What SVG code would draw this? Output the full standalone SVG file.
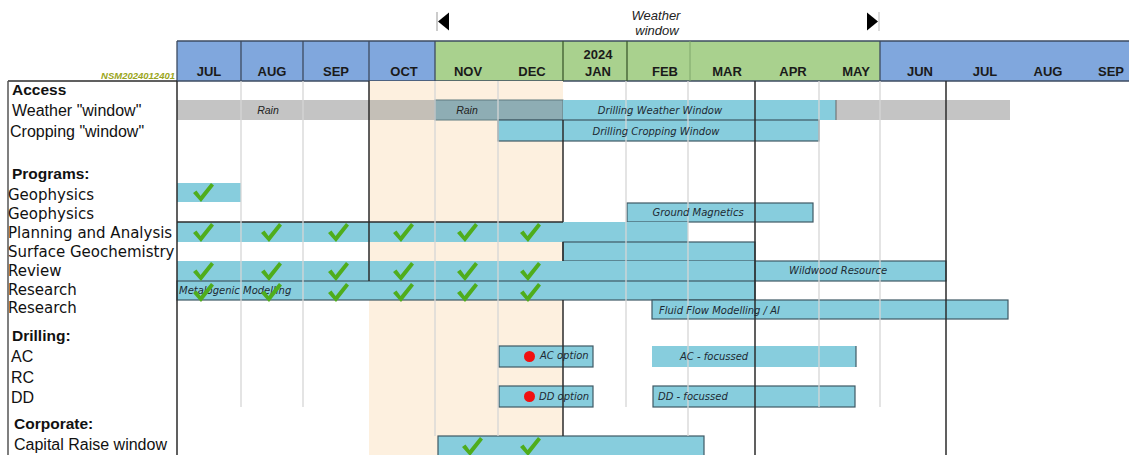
<svg xmlns="http://www.w3.org/2000/svg" width="1129" height="455" viewBox="0 0 1129 455">
<style>
.mo{font-family:"Liberation Sans",Arial,sans-serif;font-weight:bold;font-size:13px;fill:#1a1a1a;text-anchor:middle}
.lbA{font-family:"Liberation Sans",Arial,sans-serif;font-size:16px;fill:#111}
.lbH{font-family:"Liberation Sans",Arial,sans-serif;font-size:15.5px;font-weight:bold;fill:#111}
.lbP{font-family:"DejaVu Sans",Verdana,sans-serif;font-size:15px;fill:#111}
.bt{font-family:"DejaVu Sans",Verdana,sans-serif;font-style:italic;font-size:10px;fill:#1d2a33}
.rain{font-family:"Liberation Sans",Arial,sans-serif;font-style:italic;font-size:10.5px;fill:#222;text-anchor:middle}
.bar{fill:#87cddd}
.barb{fill:#87cddd;stroke:#3e5964;stroke-width:1.2}
.lg{stroke:#d6d6d6;stroke-width:1.3}
.dk{stroke:#2b2b2b;stroke-width:1.5}
.hd{stroke:#3d4b60;stroke-width:1.3}
</style>
<defs>
<path id="chk" d="M0,10 L3.5,7.5 L7.5,13 L18,0 L21,2.5 L8,19 Z" fill="#4fad1c"/>
</defs>
<rect width="1129" height="455" fill="#fff"/>

<!-- top weather window markers -->
<g id="weather-marker">
<line x1="437" y1="12" x2="437" y2="31" stroke="#999" stroke-width="1"/>
<polygon points="438,21.5 449,12.5 449,30.5" fill="#000"/>
<polygon points="867,12.5 867,30.5 878,21.5" fill="#000"/>
<line x1="879" y1="12" x2="879" y2="31" stroke="#bbb" stroke-width="1"/>
<text x="656" y="20" font-family="Liberation Sans,Arial,sans-serif" font-style="italic" font-size="13" fill="#222" text-anchor="middle">Weather</text>
<text x="657" y="35" font-family="Liberation Sans,Arial,sans-serif" font-style="italic" font-size="13" fill="#222" text-anchor="middle">window</text>
</g>

<!-- header -->
<g id="header">
<rect x="177" y="41" width="258" height="40" fill="#80a7dd"/>
<rect x="435" y="41" width="445" height="40" fill="#a9d18e"/>
<rect x="880" y="41" width="249" height="40" fill="#80a7dd"/>
<line x1="177" y1="41" x2="1129" y2="41" class="hd"/>
<line x1="177" y1="81" x2="1129" y2="81" class="hd"/>
<line x1="177" y1="41" x2="177" y2="81" class="hd"/>
<line x1="241" y1="41" x2="241" y2="81" class="hd"/>
<line x1="303" y1="41" x2="303" y2="81" class="hd"/>
<line x1="369" y1="41" x2="369" y2="81" class="hd"/>
<line x1="435" y1="41" x2="435" y2="81" class="hd"/>
<line x1="563" y1="41" x2="563" y2="81" stroke="#3d5a2e" stroke-width="1.3"/>
<line x1="627" y1="41" x2="627" y2="81" stroke="#3d5a2e" stroke-width="1.3"/>
<line x1="690" y1="41" x2="690" y2="81" stroke="#7fa66a" stroke-width="1"/>
<line x1="880" y1="41" x2="880" y2="81" class="hd"/>
<text x="209" y="76" class="mo">JUL</text>
<text x="272" y="76" class="mo">AUG</text>
<text x="336" y="76" class="mo">SEP</text>
<text x="404" y="76" class="mo">OCT</text>
<text x="468" y="76" class="mo">NOV</text>
<text x="532" y="76" class="mo">DEC</text>
<text x="598" y="59" class="mo">2024</text>
<text x="598" y="76" class="mo">JAN</text>
<text x="665" y="76" class="mo">FEB</text>
<text x="727" y="76" class="mo">MAR</text>
<text x="793" y="76" class="mo">APR</text>
<text x="856" y="76" class="mo">MAY</text>
<text x="920" y="76" class="mo">JUN</text>
<text x="985" y="76" class="mo">JUL</text>
<text x="1048" y="76" class="mo">AUG</text>
<text x="1111" y="76" class="mo">SEP</text>
<text x="175" y="79" font-family="Liberation Sans,Arial,sans-serif" font-weight="bold" font-style="italic" font-size="9.5" fill="#9aa520" text-anchor="end">NSM2024012401</text>
</g>

<!-- body background -->
<rect x="369" y="81" width="194" height="374" fill="#fdf0df"/>

<!-- bars -->
<g id="bars">
<rect x="177" y="100" width="258" height="20" fill="#c4c4c4"/>
<rect x="369" y="100" width="66" height="20" fill="#c4bfb7"/>
<rect x="435" y="100" width="128" height="20" fill="#8eadb4" stroke="#5f7a80" stroke-width="1"/>
<rect x="563" y="100" width="273" height="20" class="bar"/>
<rect x="836" y="100" width="174" height="20" fill="#c4c4c4"/>
<line x1="836" y1="100" x2="836" y2="120" stroke="#666" stroke-width="1"/>
<rect x="498" y="120" width="321" height="21" class="barb"/>

<rect x="177" y="183" width="64" height="19" class="bar"/>
<rect x="627" y="203" width="186" height="19" class="barb"/>
<rect x="177" y="222" width="511" height="20" class="bar"/>
<line x1="177" y1="222" x2="563" y2="222" class="dk"/>
<rect x="563" y="242" width="192" height="19" class="barb"/>
<rect x="177" y="261" width="578" height="20" class="bar"/>
<rect x="755" y="261" width="191" height="20" class="barb"/>
<rect x="177" y="281" width="578" height="19" class="barb"/>
<rect x="652" y="300" width="356" height="19" class="barb"/>

<rect x="499" y="346" width="94" height="21" class="barb"/>
<rect x="652" y="346" width="204" height="21" class="bar"/>
<line x1="856" y1="346" x2="856" y2="367" stroke="#3e5964" stroke-width="1.2"/>
<rect x="499" y="386" width="94" height="21" class="barb"/>
<rect x="653" y="386" width="202" height="21" class="barb"/>
<rect x="438" y="436" width="266" height="22" class="barb"/>
<circle cx="529.5" cy="356.5" r="5.5" fill="#f01010"/>
<circle cx="529.5" cy="396.5" r="5.5" fill="#f01010"/>
</g>

<!-- grid lines -->
<g id="grid">
<line x1="241" y1="81" x2="241" y2="407" class="lg"/>
<line x1="303" y1="81" x2="303" y2="407" class="lg"/>
<line x1="435" y1="81" x2="435" y2="436" class="lg"/>
<line x1="498" y1="81" x2="498" y2="436" class="lg"/>
<line x1="626" y1="81" x2="626" y2="407" class="lg"/>
<line x1="688" y1="81" x2="688" y2="436" class="lg"/>
<line x1="819" y1="81" x2="819" y2="407" class="lg"/>
<line x1="880" y1="81" x2="880" y2="407" class="lg"/>
<line x1="177" y1="81" x2="177" y2="455" class="dk"/>
<line x1="369" y1="81" x2="369" y2="281" class="dk"/>
<line x1="563" y1="120" x2="563" y2="222" class="dk"/>
<line x1="563" y1="242" x2="563" y2="261" class="dk"/>
<line x1="563" y1="300" x2="563" y2="436" class="dk"/>
<line x1="755" y1="81" x2="755" y2="455" class="dk"/>
<line x1="946" y1="81" x2="946" y2="455" class="dk"/>
<line x1="8" y1="81" x2="177" y2="81" class="dk"/>
<line x1="8" y1="81" x2="8" y2="455" stroke="#555" stroke-width="1.5"/>
</g>

<!-- bar texts -->
<g id="bar-labels">
<text x="268" y="114" class="rain">Rain</text>
<text x="467" y="114" class="rain">Rain</text>
<text x="660" y="114" class="bt" text-anchor="middle">Drilling Weather Window</text>
<text x="656" y="135" class="bt" text-anchor="middle">Drilling Cropping Window</text>
<text x="698" y="216" class="bt" text-anchor="middle">Ground Magnetics</text>
<text x="789" y="274" class="bt">Wildwood Resource</text>
<text x="179" y="294" class="bt">Metalogenic Modelling</text>
<text x="659" y="314" class="bt">Fluid Flow Modelling / AI</text>
<text x="540" y="359" class="bt">AC option</text>
<text x="680" y="360" class="bt">AC - focussed</text>
<text x="539" y="400" class="bt">DD option</text>
<text x="658" y="400" class="bt">DD - focussed</text>
</g>

<!-- checks -->
<g id="checks">
<use href="#chk" x="193" y="183"/>
<use href="#chk" x="193" y="223"/>
<use href="#chk" x="261" y="223"/>
<use href="#chk" x="328" y="223"/>
<use href="#chk" x="393" y="223"/>
<use href="#chk" x="457" y="223"/>
<use href="#chk" x="520" y="223"/>
<use href="#chk" x="193" y="262"/>
<use href="#chk" x="261" y="262"/>
<use href="#chk" x="328" y="262"/>
<use href="#chk" x="393" y="262"/>
<use href="#chk" x="457" y="262"/>
<use href="#chk" x="520" y="262"/>
<use href="#chk" x="193" y="283"/>
<use href="#chk" x="261" y="283"/>
<use href="#chk" x="328" y="283"/>
<use href="#chk" x="393" y="283"/>
<use href="#chk" x="457" y="283"/>
<use href="#chk" x="520" y="283"/>
<use href="#chk" x="462" y="437"/>
<use href="#chk" x="520" y="437"/>
</g>

<!-- row labels -->
<g id="row-labels">
<text x="12" y="95" class="lbH">Access</text>
<text x="12" y="116" class="lbA">Weather "window"</text>
<text x="10" y="137" class="lbA">Cropping "window"</text>
<text x="12" y="179" class="lbH">Programs:</text>
<text x="8" y="200" class="lbP">Geophysics</text>
<text x="8" y="219" class="lbP">Geophysics</text>
<text x="8" y="238" class="lbP">Planning and Analysis</text>
<text x="8" y="257" class="lbP">Surface Geochemistry</text>
<text x="8" y="276" class="lbP">Review</text>
<text x="8" y="295" class="lbP">Research</text>
<text x="8" y="313" class="lbP">Research</text>
<text x="12" y="341" class="lbH">Drilling:</text>
<text x="11" y="362" class="lbA">AC</text>
<text x="11" y="383" class="lbA">RC</text>
<text x="11" y="403" class="lbA">DD</text>
<text x="14" y="429" class="lbH">Corporate:</text>
<text x="14" y="450" class="lbA">Capital Raise window</text>
</g>
</svg>
